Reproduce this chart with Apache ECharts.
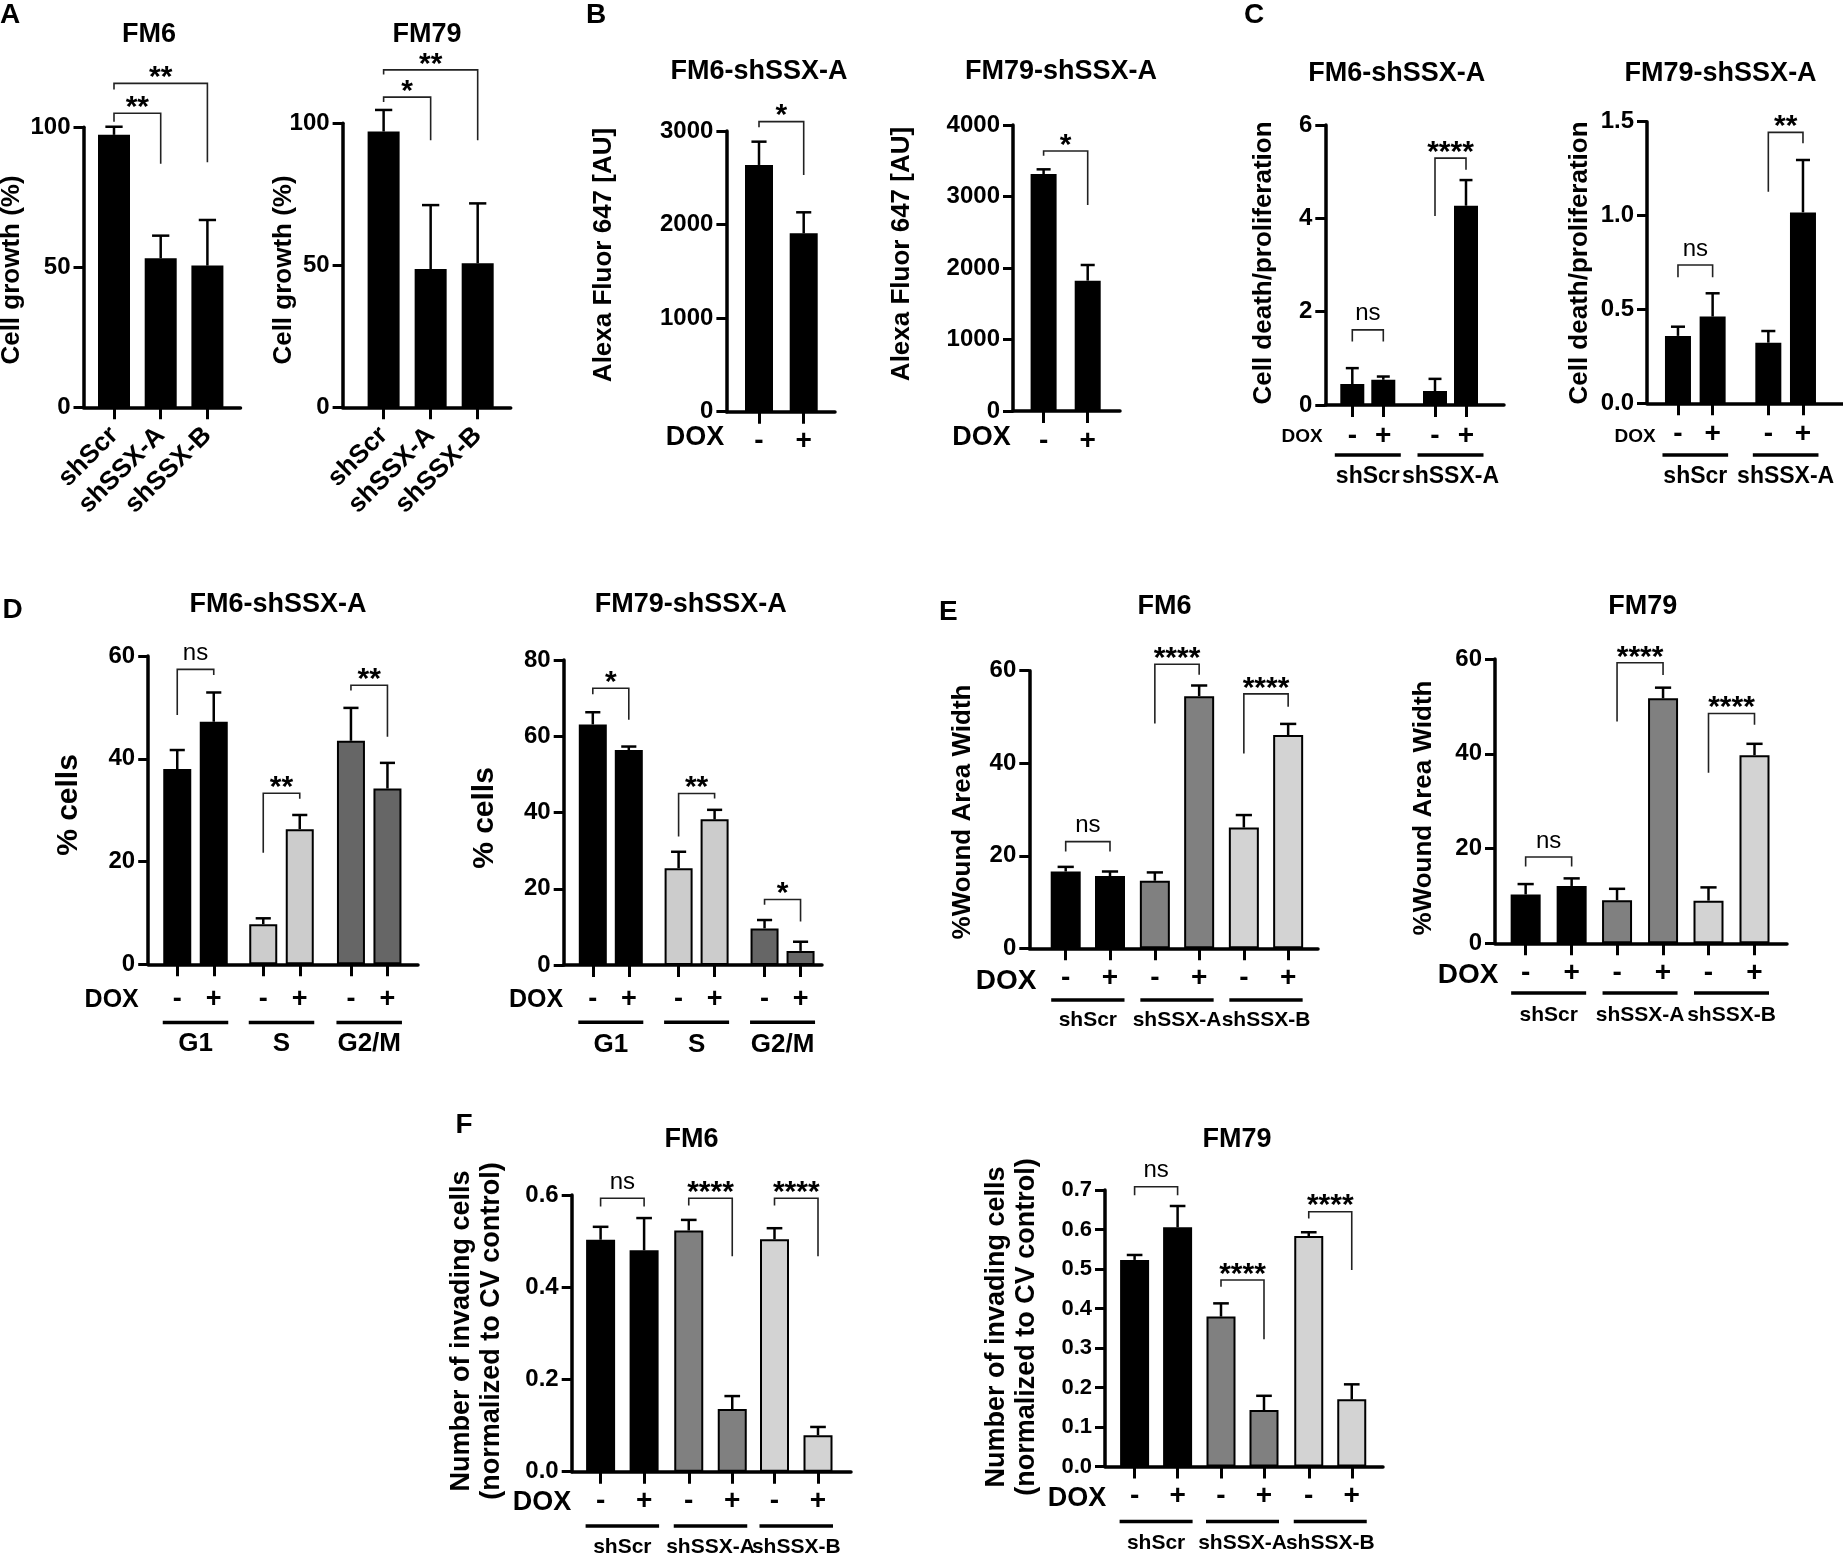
<!DOCTYPE html>
<html>
<head>
<meta charset="UTF-8">
<title>SSX knockdown panels</title>
<script src="https://cdn.jsdelivr.net/npm/echarts@6/dist/echarts.min.js"></script>
<style>
  html, body { margin: 0; padding: 0; background: #fff; }
  #chart { width: 1843px; height: 1555px; }
</style>
</head>
<body>
<div id="chart"></div>
<script>
// ---------- data ----------
var doxLabels = ['-', '+'];
var aCats = ['shScr', 'shSSX-A', 'shSSX-B'];
var cGroups = ['shScr', 'shSSX-A'];
var dGroups = ['G1', 'S', 'G2/M'];
var efGroups = ['shScr', 'shSSX-A', 'shSSX-B'];

// A: cell growth (%)
var aFm6Mean = [97.3, 53.2, 50.6];
var aFm6Err = [2.9, 8.1, 16.3];
var aFm79Mean = [97.1, 48.7, 50.7];
var aFm79Err = [7.6, 22.5, 21.1];

// B: Alexa Fluor 647 [AU]
var bFm6Mean = [2637, 1906];
var bFm6Err = [249, 225];
var bFm79Mean = [3315, 1823];
var bFm79Err = [65, 219];

// C: cell death / proliferation  (per group: [-DOX, +DOX])
var cFm6Mean = [[0.45, 0.54], [0.30, 4.27]];
var cFm6Err = [[0.34, 0.07], [0.26, 0.55]];
var cFm79Mean = [[0.359, 0.462], [0.323, 1.017]];
var cFm79Err = [[0.049, 0.124], [0.062, 0.279]];

// D: % cells in G1 / S / G2-M
var dFm6Mean = [[38.0, 47.2], [7.8, 26.3], [43.5, 34.2]];
var dFm6Err = [[3.7, 5.7], [1.15, 2.76], [6.4, 5.0]];
var dFm79Mean = [[63.1, 56.4], [25.4, 38.2], [9.6, 3.7]];
var dFm79Err = [[3.2, 0.9], [4.3, 2.5], [2.2, 2.4]];

// E: % wound area width
var eFm6Mean = [[16.6, 15.6], [14.6, 54.5], [26.1, 46.1]];
var eFm6Err = [[1.0, 1.0], [1.8, 2.3], [2.7, 2.4]];
var eFm79Mean = [[10.3, 12.1], [9.1, 51.7], [9.0, 39.7]];
var eFm79Err = [[2.2, 1.6], [2.4, 2.25], [2.8, 2.4]];

// F: number of invading cells
var fFm6Mean = [[0.503, 0.480], [0.523, 0.136], [0.504, 0.079]];
var fFm6Err = [[0.028, 0.070], [0.023, 0.028], [0.024, 0.018]];
var fFm79Mean = [[0.523, 0.6055], [0.3795, 0.143], [0.5836, 0.170]];
var fFm79Err = [[0.0125, 0.054], [0.0335, 0.036], [0.0094, 0.038]];

// significance brackets: [group, from, to, level, left leg end, right leg end, text]
var aFm6Sig = [[0, 0, 1, 105, 102, 87, '**'], [0, 0, 2, 115.7, 113.5, 87.5, '**']];
var aFm79Sig = [[0, 0, 1, 109.2, 107.5, 94, '*'], [0, 0, 2, 118.8, 117.2, 94, '**']];
var bFm6Sig = [[0, 0, 1, 3100, 3040, 2530, '*']];
var bFm79Sig = [[0, 0, 1, 3636, 3570, 2881, '*']];
var cFm6Sig = [[0, 0, 1, 1.61, 1.36, 1.36, 'ns'], [1, 0, 1, 5.29, 4.05, 5.04, '****']];
var cFm79Sig = [[0, 0, 1, 0.737, 0.671, 0.671, 'ns'], [1, 0, 1, 1.443, 1.127, 1.385, '**']];
var dFm6Sig = [[0, 0, 1, 57.4, 48.5, 56.3, 'ns'], [1, 0, 1, 33.3, 21.7, 32.2, '**'], [2, 0, 1, 54.3, 53.3, 44.3, '**']];
var dFm79Sig = [[0, 0, 1, 72.6, 71.0, 64.3, '*'], [1, 0, 1, 45.0, 33.7, 43.7, '**'], [2, 0, 1, 17.2, 15.8, 11.4, '*']];
var eFm6Sig = [[0, 0, 1, 23.05, 20.9, 20.9, 'ns'], [1, 0, 1, 61.4, 48.6, 59.1, '****'], [2, 0, 1, 55.0, 42.1, 52.2, '****']];
var eFm79Sig = [[0, 0, 1, 18.2, 16.2, 16.2, 'ns'], [1, 0, 1, 59.2, 46.8, 56.6, '****'], [2, 0, 1, 48.5, 36.0, 46.1, '****']];
var fFm6Sig = [[0, 0, 1, 0.593, 0.575, 0.575, 'ns'], [1, 0, 1, 0.593, 0.577, 0.467, '****'], [2, 0, 1, 0.593, 0.577, 0.467, '****']];
var fFm79Sig = [[0, 0, 1, 0.7084, 0.687, 0.687, 'ns'], [1, 0, 1, 0.472, 0.455, 0.322, '****'], [2, 0, 1, 0.645, 0.628, 0.4976, '****']];

// ---------- layout / style ----------
var FF = '"Liberation Sans", Arial, Helvetica, sans-serif';
var BLACK = ['#000', '#000', '#000'];
var D_COLORS = ['#000', '#cccccc', '#666666'];
var EF_COLORS = ['#000', '#808080', '#d3d3d3'];

function f(px, w) { return (w || 'bold') + ' ' + px + 'px ' + FF; }

var panels = [
  { title: 'FM6', tx: 149, ty: 35, left: 83.5, top: 127.3, bottom: 407.3, right: 240.5, yMax: 100, yStep: 50, dec: 0,
    yName: 'Cell growth (%)', nx: 12, ny: 270, nSize: 26, barW: 32, tickFont: 24, catFont: 26, rotate: 45, catMargin: 24,
    groups: [{ cx: 160.7, w: 140.1, cats: aCats, mean: aFm6Mean, err: aFm6Err, colors: BLACK }], sig: aFm6Sig },
  { title: 'FM79', tx: 427, ty: 35, left: 342.6, top: 123.3, bottom: 407.3, right: 510.7, yMax: 100, yStep: 50, dec: 0,
    yName: 'Cell growth (%)', nx: 284, ny: 270, nSize: 26, barW: 32, tickFont: 24, catFont: 26, rotate: 45, catMargin: 24,
    groups: [{ cx: 430.65, w: 141.1, cats: aCats, mean: aFm79Mean, err: aFm79Err, colors: BLACK }], sig: aFm79Sig },
  { title: 'FM6-shSSX-A', tx: 759, ty: 71.7, left: 726.4, top: 131, bottom: 411.7, right: 835, yMax: 3000, yStep: 1000, dec: 0,
    yName: 'Alexa Fluor 647 [AU]', nx: 604, ny: 255, nSize: 26, barW: 28, tickFont: 24, catFont: 28, catMargin: 16,
    dox: [695, 437.5, 27],
    groups: [{ cx: 781.35, w: 89.4, cats: doxLabels, mean: bFm6Mean, err: bFm6Err, colors: BLACK }], sig: bFm6Sig },
  { title: 'FM79-shSSX-A', tx: 1061, ty: 71.7, left: 1013, top: 125, bottom: 411, right: 1120, yMax: 4000, yStep: 1000, dec: 0,
    yName: 'Alexa Fluor 647 [AU]', nx: 902, ny: 254, nSize: 26, barW: 26, tickFont: 24, catFont: 28, catMargin: 16,
    dox: [981.5, 437.5, 27],
    groups: [{ cx: 1065.65, w: 88.2, cats: doxLabels, mean: bFm79Mean, err: bFm79Err, colors: BLACK }], sig: bFm79Sig },
  { title: 'FM6-shSSX-A', tx: 1396.8, ty: 73.3, left: 1325.3, top: 125, bottom: 405, right: 1504, yMax: 6, yStep: 2, dec: 0,
    yName: 'Cell death/proliferation', nx: 1263.7, ny: 263, nSize: 26, barW: 24, tickFont: 24, catFont: 28, catMargin: 17,
    dox: [1302, 436.7, 19], pad: 17.5, lineOff: 50, labelOff: 71.7, groupFont: 23,
    groups: [0, 1].map(function (g) { return { cx: [1367.8, 1450.5][g], w: 62, cats: doxLabels, mean: cFm6Mean[g], err: cFm6Err[g], colors: BLACK, label: cGroups[g] }; }),
    sig: cFm6Sig },
  { title: 'FM79-shSSX-A', tx: 1720.6, ty: 73.3, left: 1647, top: 121.7, bottom: 403.3, right: 1843, yMax: 1.5, yStep: 0.5, dec: 1,
    yName: 'Cell death/proliferation', nx: 1579.6, ny: 263, nSize: 26, barW: 26, tickFont: 24, catFont: 28, catMargin: 17,
    dox: [1635, 436.7, 19], pad: 15.5, lineOff: 51.7, labelOff: 73.4, groupFont: 23,
    groups: [0, 1].map(function (g) { return { cx: [1695.3, 1785.65][g], w: 69.3, cats: doxLabels, mean: cFm79Mean[g], err: cFm79Err[g], colors: BLACK, label: cGroups[g] }; }),
    sig: cFm79Sig },
  { title: 'FM6-shSSX-A', tx: 278, ty: 605, left: 148.2, top: 656, bottom: 964.3, right: 418, yMax: 60, yStep: 20, dec: 0,
    yName: '% cells', nx: 68.8, ny: 805, nSize: 30, barW: 28, tickFont: 24, catFont: 27, catMargin: 22,
    dox: [111.7, 1000, 25], pad: 14.5, lineOff: 58.2, labelOff: 79.7, groupFont: 26,
    groups: [0, 1, 2].map(function (g) { return { cx: [195.5, 281.5, 369.2][g], w: 73, cats: doxLabels, mean: dFm6Mean[g], err: dFm6Err[g], colors: [D_COLORS[g], D_COLORS[g]], label: dGroups[g] }; }),
    sig: dFm6Sig },
  { title: 'FM79-shSSX-A', tx: 690.7, ty: 605, left: 563.7, top: 660, bottom: 965, right: 822, yMax: 80, yStep: 20, dec: 0,
    yName: '% cells', nx: 484.3, ny: 818, nSize: 30, barW: 28, tickFont: 24, catFont: 27, catMargin: 21,
    dox: [536, 1000, 25], pad: 14.5, lineOff: 57.3, labelOff: 80, groupFont: 26,
    groups: [0, 1, 2].map(function (g) { return { cx: [610.8, 696.6, 782.55][g], w: 72, cats: doxLabels, mean: dFm79Mean[g], err: dFm79Err[g], colors: [D_COLORS[g], D_COLORS[g]], label: dGroups[g] }; }),
    sig: dFm79Sig },
  { title: 'FM6', tx: 1164.6, ty: 606.7, left: 1029.3, top: 670.7, bottom: 948.3, right: 1318, yMax: 60, yStep: 20, dec: 0,
    yName: '%Wound Area Width', nx: 963, ny: 812, nSize: 26, barW: 30, tickFont: 24, catFont: 28, catMargin: 16,
    dox: [1006, 981, 28], pad: 14.5, lineOff: 51.7, labelOff: 71.7, groupFont: 21,
    groups: [0, 1, 2].map(function (g) { return { cx: [1087.85, 1177, 1266][g], w: 88.6, cats: doxLabels, mean: eFm6Mean[g], err: eFm6Err[g], colors: [EF_COLORS[g], EF_COLORS[g]], label: efGroups[g] }; }),
    sig: eFm6Sig },
  { title: 'FM79', tx: 1642.7, ty: 606.7, left: 1495, top: 659, bottom: 943.3, right: 1787, yMax: 60, yStep: 20, dec: 0,
    yName: '%Wound Area Width', nx: 1424, ny: 808, nSize: 26, barW: 30, tickFont: 24, catFont: 28, catMargin: 16,
    dox: [1468, 975, 28], pad: 14.5, lineOff: 49.7, labelOff: 71.7, groupFont: 21,
    groups: [0, 1, 2].map(function (g) { return { cx: [1548.65, 1640.05, 1731.5][g], w: 92, cats: doxLabels, mean: eFm79Mean[g], err: eFm79Err[g], colors: [EF_COLORS[g], EF_COLORS[g]], label: efGroups[g] }; }),
    sig: eFm79Sig },
  { title: 'FM6', tx: 691.5, ty: 1140, left: 571.7, top: 1195, bottom: 1471.7, right: 851, yMax: 0.6, yStep: 0.2, dec: 1,
    yName: 'Number of invading cells\n(normalized to CV control)', nx: 477, ny: 1331, nSize: 27, barW: 29, tickFont: 24, catFont: 28, catMargin: 16,
    dox: [542, 1503, 27], pad: 15, lineOff: 54.4, labelOff: 76, groupFont: 21,
    groups: [0, 1, 2].map(function (g) { return { cx: [622.35, 710.5, 796.25][g], w: 87, cats: doxLabels, mean: fFm6Mean[g], err: fFm6Err[g], colors: [EF_COLORS[g], EF_COLORS[g]], label: efGroups[g] }; }),
    sig: fFm6Sig },
  { title: 'FM79', tx: 1237, ty: 1140, left: 1105, top: 1190, bottom: 1466.5, right: 1383, yMax: 0.7, yStep: 0.1, dec: 1,
    yName: 'Number of invading cells\n(normalized to CV control)', nx: 1012, ny: 1327, nSize: 27, barW: 29, tickFont: 22, catFont: 28, catMargin: 16,
    dox: [1077, 1499, 27], pad: 15, lineOff: 55, labelOff: 76.6, groupFont: 21,
    groups: [0, 1, 2].map(function (g) { return { cx: [1156.1, 1242.5, 1330.25][g], w: 86, cats: doxLabels, mean: fFm79Mean[g], err: fFm79Err[g], colors: [EF_COLORS[g], EF_COLORS[g]], label: efGroups[g] }; }),
    sig: fFm79Sig }
];

var letters = [['A', 0, 15.5], ['B', 586, 15.5], ['C', 1244, 15], ['D', 2.6, 610], ['E', 939, 612.5], ['F', 455.5, 1125.5]];

// ---------- build option ----------
var option = { animation: false, backgroundColor: '#fff', grid: [], xAxis: [], yAxis: [], series: [], graphic: [] };

function errRender(cap) {
  return function (params, api) {
    var base = api.coord([api.value(0), api.value(1)]);
    var top = api.coord([api.value(0), api.value(1) + api.value(2)]);
    var st = { stroke: '#000', lineWidth: 2.5 };
    return { type: 'group', children: [
      { type: 'line', shape: { x1: base[0], y1: base[1], x2: top[0], y2: top[1] }, style: st },
      { type: 'line', shape: { x1: top[0] - cap, y1: top[1], x2: top[0] + cap, y2: top[1] }, style: st }
    ] };
  };
}

function sigRender(list) {
  return function (params, api) {
    var s = list[params.dataIndex];
    var pL = api.coord([s[1], s[4]]), p1 = api.coord([s[1], s[3]]);
    var p2 = api.coord([s[2], s[3]]), pR = api.coord([s[2], s[5]]);
    var ns = s[6] === 'ns';
    return { type: 'group', children: [
      { type: 'polyline', shape: { points: [pL, p1, p2, pR] }, style: { stroke: '#222', lineWidth: 1.6, fill: 'none' } },
      { type: 'text', style: { text: s[6], x: (p1[0] + p2[0]) / 2, y: p1[1] + (ns ? -16 : -5.5),
        align: 'center', verticalAlign: 'middle', font: ns ? f(24, 'normal') : f(30), fill: '#000' } }
    ] };
  };
}

function groupRender(p, g) {
  return function (params, api) {
    var a = api.coord([0, 0]), b = api.coord([g.cats.length - 1, 0]);
    var x1 = a[0] - p.pad, x2 = b[0] + p.pad;
    return { type: 'group', children: [
      { type: 'line', shape: { x1: x1, y1: a[1] + p.lineOff, x2: x2, y2: a[1] + p.lineOff }, style: { stroke: '#000', lineWidth: 3.5 } },
      { type: 'text', style: { text: g.label, x: (x1 + x2) / 2, y: a[1] + p.labelOff, align: 'center', verticalAlign: 'middle', font: f(p.groupFont), fill: '#000' } }
    ] };
  };
}

panels.forEach(function (p) {
  var h = p.bottom - p.top;
  // frame grid: y axis with ticks and the long x axis line
  var gi = option.grid.length;
  option.grid.push({ left: p.left, top: p.top, width: p.right - p.left, height: h });
  option.xAxis.push({ gridIndex: gi, type: 'value', min: 0, max: 1,
    axisLine: { show: true, onZero: false, lineStyle: { color: '#000', width: 3.5 } },
    axisTick: { show: false }, axisLabel: { show: false }, splitLine: { show: false } });
  option.yAxis.push({ gridIndex: gi, type: 'value', min: 0, max: p.yMax, interval: p.yStep,
    axisLine: { show: true, onZero: false, lineStyle: { color: '#000', width: 3.5 } },
    axisTick: { show: true, length: 10, lineStyle: { color: '#000', width: 3 } },
    axisLabel: { margin: 13, color: '#000', fontWeight: 'bold', fontSize: p.tickFont, fontFamily: FF,
      formatter: function (v) { return v.toFixed(p.dec); } },
    splitLine: { show: false } });

  // one bar grid per group of bars
  p.groups.forEach(function (g, gIdx) {
    var k = option.grid.length;
    option.grid.push({ left: g.cx - g.w / 2, top: p.top, width: g.w, height: h });
    option.xAxis.push({ gridIndex: k, type: 'category', data: g.cats,
      axisLine: { show: false },
      axisTick: { show: true, alignWithLabel: true, length: 12, lineStyle: { color: '#000', width: 3 } },
      axisLabel: { interval: 0, rotate: p.rotate || 0, margin: p.catMargin, color: '#000', fontWeight: 'bold',
        fontSize: p.catFont, fontFamily: FF },
      splitLine: { show: false } });
    option.yAxis.push({ gridIndex: k, type: 'value', min: 0, max: p.yMax, show: false });

    option.series.push({ type: 'bar', xAxisIndex: k, yAxisIndex: k, barWidth: p.barW, z: 2,
      data: g.mean.map(function (v, i) {
        return { value: v, itemStyle: { color: g.colors[i], borderColor: '#000', borderWidth: 2 } };
      }) });
    option.series.push({ type: 'custom', xAxisIndex: k, yAxisIndex: k, z: 3,
      data: g.mean.map(function (v, i) { return [i, v, g.err[i]]; }),
      renderItem: errRender(p.barW * 0.27) });

    var sig = p.sig.filter(function (s) { return s[0] === gIdx; });
    if (sig.length) {
      option.series.push({ type: 'custom', xAxisIndex: k, yAxisIndex: k, z: 4,
        data: sig.map(function (s) { return [s[1], s[3]]; }), renderItem: sigRender(sig) });
    }
    if (g.label) {
      option.series.push({ type: 'custom', xAxisIndex: k, yAxisIndex: k, z: 4,
        data: [[0, 0]], renderItem: groupRender(p, g) });
    }
  });

  option.graphic.push({ type: 'text', x: p.tx, y: p.ty,
    style: { text: p.title, font: f(27), fill: '#000', align: 'center', verticalAlign: 'middle' } });
  option.graphic.push({ type: 'text', x: p.nx, y: p.ny, rotation: Math.PI / 2,
    style: { text: p.yName, font: f(p.nSize), fill: '#000', align: 'center', verticalAlign: 'middle', lineHeight: 30 } });
  if (p.dox) {
    option.graphic.push({ type: 'text', x: p.dox[0], y: p.dox[1],
      style: { text: 'DOX', font: f(p.dox[2]), fill: '#000', align: 'center', verticalAlign: 'middle' } });
  }
});

letters.forEach(function (l) {
  option.graphic.push({ type: 'text', x: l[1], y: l[2],
    style: { text: l[0], font: f(28), fill: '#000', align: 'left', verticalAlign: 'middle' } });
});

var chart = echarts.init(document.getElementById('chart'), null, { renderer: 'canvas' });
chart.setOption(option);
</script>
</body>
</html>
